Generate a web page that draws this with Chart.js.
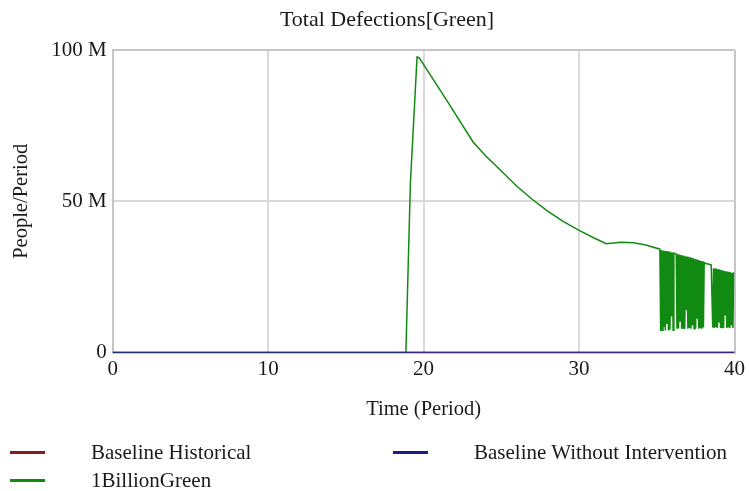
<!DOCTYPE html>
<html>
<head>
<meta charset="utf-8">
<script src="https://cdn.jsdelivr.net/npm/chart.js@4.4.1/dist/chart.umd.min.js"></script>
<style>
  html, body { margin: 0; padding: 0; background: #fff; }
  #wrap { position: relative; width: 749px; height: 491px; font-family: "Liberation Serif", "Times New Roman", serif; color: #1a1a1a; }
  #chart { position: absolute; left: 0; top: 0; }
  #title { position: absolute; left: 0; top: 5px; width: 774px; text-align: center; font-size: 22px; line-height: 28px; }
  .item { position: absolute; font-size: 21px; line-height: 24px; white-space: nowrap; }
  .item .swatch { position: absolute; left: 0; top: 11px; width: 35px; height: 2.5px; }
  .item .label { position: absolute; left: 81px; top: 0; }
</style>
</head>
<body>
<div id="wrap">
  <canvas id="chart" width="749" height="491"></canvas>
  <div id="title">Total Defections[Green]</div>
  <div id="legend"></div>
</div>
<script>
// series names / colours
const seriesNames = ['Baseline Historical', 'Baseline Without Intervention', '1BillionGreen'];
const seriesColors = ['#8c1a1a', '#1a1a8c', '#118a11'];

// both baselines stay at zero for the whole run
const baseTime = [0, 40];
const baselineHistorical = [0, 0];
const baselineWithout = [0, 0];

// 1BillionGreen, values in millions of people/period
const greenTime = [0, 18.86, 19.15, 19.58, 19.72, 21.5, 23.17, 24, 25, 26, 27, 28, 29, 30, 31, 31.75, 32.7, 33.5, 34.3, 35.2,
  35.25, 35.3, 35.35, 35.4, 35.45, 35.5, 35.55, 35.6, 35.65, 35.7, 35.75, 35.8, 35.85, 35.9, 35.95, 36, 36.05, 36.1,
  36.15, 36.2, 36.25,
  36.3, 36.35, 36.4, 36.45, 36.5, 36.55, 36.6, 36.65, 36.7, 36.75, 36.8, 36.85, 36.9, 36.95, 37, 37.05, 37.1, 37.15,
  37.2, 37.25, 37.3, 37.35, 37.4, 37.45, 37.5, 37.55, 37.6, 37.65, 37.7, 37.75, 37.8, 37.85, 37.9, 37.95, 38, 38.05,
  38.1, 38.3, 38.5,
  38.6, 38.65, 38.7, 38.75, 38.8, 38.85, 38.9, 38.95, 39, 39.05, 39.1, 39.15, 39.2, 39.25, 39.3, 39.35, 39.4, 39.45,
  39.5, 39.55, 39.6, 39.65, 39.7, 39.75, 39.8, 39.85, 39.9, 39.95, 40];
const greenValue = [0, 0, 56, 97.7, 97.4, 83.3, 69.7, 65, 60, 55, 50.6, 46.7, 43.3, 40.4, 37.8, 36, 36.5, 36.3, 35.6, 34.2,
  7.2, 33.9, 7.4, 33.8, 8.5, 33.7, 7.3, 33.6, 9.5, 33.5, 7.3, 33.4, 7.6, 33.2, 12, 33.1, 7.4, 32.9,
  32.8, 32.7, 32.6,
  7.9, 32.5, 8, 32.4, 10.5, 32.3, 7.9, 32.2, 8.1, 32, 7.9, 31.9, 14, 31.8, 7.9, 31.6, 8.2, 31.5,
  7.9, 31.3, 9, 31.2, 7.9, 31, 8, 30.9, 11.5, 30.7, 7.9, 30.5, 8.1, 30.3, 7.9, 30.1, 8.3, 29.8,
  29.6, 29.3, 29,
  8.3, 27.9, 8.2, 27.8, 8.4, 27.7, 8.2, 27.6, 10, 27.4, 8.2, 27.3, 8.3, 27.2, 8.2, 27, 12.5, 26.9,
  8.2, 26.8, 8.3, 26.7, 8.2, 26.5, 9, 26.4, 8.2, 26.3, 26.2];

// axis ticks
const xTicks = [0, 10, 20, 30, 40];
const yTicks = [0, 50, 100];

const pts = (xs, ys) => xs.map((x, i) => ({ x: x, y: ys[i] }));
const txt = '#1a1a1a';
const gridCol = ctx => (ctx.tick && (ctx.tick.value === 40 || ctx.tick.value === 100)) ? '#c6c6c6' : '#dadada';

new Chart(document.getElementById('chart'), {
  type: 'line',
  data: {
    datasets: [
      { label: seriesNames[1], data: pts(baseTime, baselineWithout), borderColor: seriesColors[1], borderWidth: 2, order: 0 },
      { label: seriesNames[2], data: pts(greenTime, greenValue), borderColor: seriesColors[2], borderWidth: 1.5, order: 1 },
      { label: seriesNames[0], data: pts(baseTime, baselineHistorical), borderColor: seriesColors[0], borderWidth: 2, order: 2 }
    ]
  },
  options: {
    responsive: false,
    animation: false,
    devicePixelRatio: 1,
    layout: { padding: { top: 50, right: 14, bottom: 69, left: 0 } },
    elements: { point: { radius: 0 }, line: { tension: 0 } },
    plugins: { legend: { display: false }, tooltip: { enabled: false } },
    scales: {
      x: {
        type: 'linear', min: xTicks[0], max: xTicks[xTicks.length - 1],
        afterBuildTicks: s => { s.ticks = xTicks.map(v => ({ value: v })); },
        ticks: { color: txt, padding: 4, font: { family: 'Liberation Serif', size: 21 } },
        grid: { color: gridCol, lineWidth: 2, drawTicks: false },
        border: { color: '#c6c6c6', width: 2 },
        title: { display: true, text: 'Time (Period)', color: txt, padding: 0, font: { family: 'Liberation Serif', size: 20.5 } },
        afterFit: s => { s.height = 69.3; }
      },
      y: {
        min: yTicks[0], max: yTicks[yTicks.length - 1],
        afterBuildTicks: s => { s.ticks = yTicks.map(v => ({ value: v })); },
        ticks: { color: txt, padding: 6, font: { family: 'Liberation Serif', size: 21 },
          callback: v => v === 0 ? '0' : v + ' M' },
        grid: { color: gridCol, lineWidth: 2, drawTicks: false },
        border: { color: '#c6c6c6', width: 2 },
        title: { display: true, text: 'People/Period', color: txt, padding: { top: 9.4, bottom: 0 }, font: { family: 'Liberation Serif', size: 20.5 } },
        afterFit: s => { s.width = 112.7; }
      }
    }
  }
});

// legend below the plot: two columns, order as in the source
const legendSlots = [[10, 440], [393, 440], [10, 468]];
const legendOrder = [0, 1, 2];
const legend = document.getElementById('legend');
legendOrder.forEach((si, i) => {
  const d = document.createElement('div');
  d.className = 'item';
  d.style.left = legendSlots[i][0] + 'px';
  d.style.top = legendSlots[i][1] + 'px';
  d.innerHTML = '<span class="swatch" style="background:' + seriesColors[si] + '"></span><span class="label"></span>';
  d.querySelector('.label').textContent = seriesNames[si];
  legend.appendChild(d);
});
</script>
</body>
</html>
